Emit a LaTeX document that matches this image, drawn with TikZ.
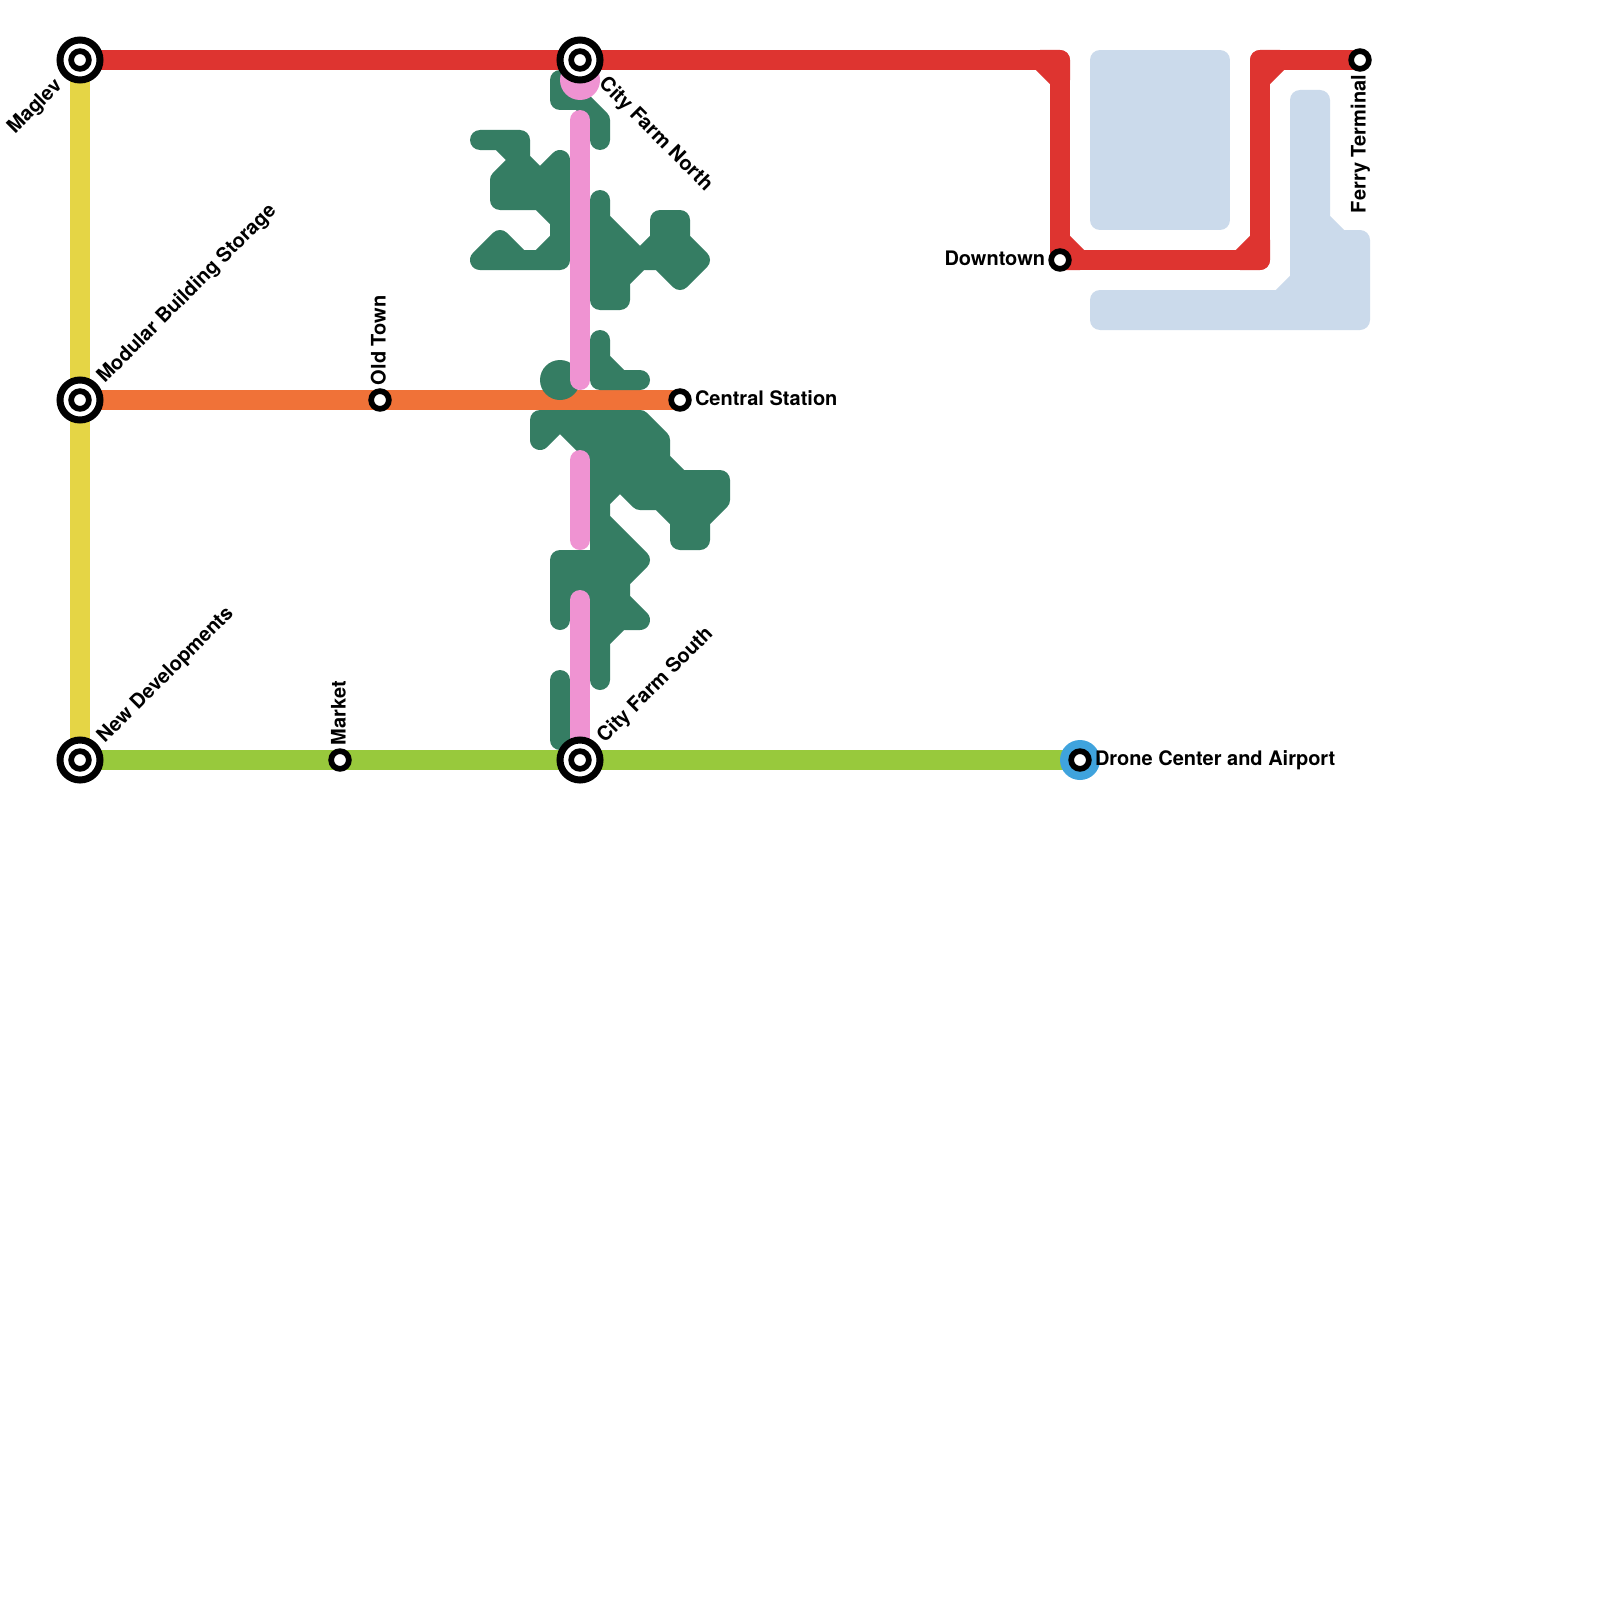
\documentclass[tikz,border=0pt]{standalone}
\usepackage{fontspec}
\setmainfont{TeX Gyre Heros}
\pgfdeclarelayer{under}
\pgfsetlayers{under,main}
\definecolor{cred}{HTML}{DE3430}
\definecolor{cyel}{HTML}{E5D545}
\definecolor{cora}{HTML}{F07238}
\definecolor{clim}{HTML}{98C93C}
\definecolor{cgrn}{HTML}{357D63}
\definecolor{cpnk}{HTML}{EF93D2}
\definecolor{cwat}{HTML}{CBDAEB}
\definecolor{cblu}{HTML}{3FA3DD}
\tikzset{
  metro/.style={line width=20pt,line join=round,line cap=round},
  shapefill/.style={metro,draw=#1,fill=#1},
  stn/.style={circle,draw=black,fill=white,line width=5.7pt,minimum size=17.7pt,inner sep=0pt,outer sep=0pt},
  ichg/.style={circle,draw=black,fill=white,line width=7pt,minimum size=40pt,inner sep=0pt,outer sep=0pt},
  halo/.style={circle,fill=cblu,minimum size=40pt,inner sep=0pt,outer sep=0pt},
  lbl/.style={font=\fontsize{20}{20}\selectfont\bfseries,text=black,inner sep=0pt,outer sep=0pt},
}
\begin{document}
\begin{tikzpicture}[x=1pt,y=-1pt]
\useasboundingbox (0,0) rectangle (1600,1600);
% stations
\node[ichg] (mag) at (80,60) {};
\node[ichg] (mod) at (80,400) {};
\node[ichg] (new) at (80,760) {};
\node[ichg] (cfn) at (580,60) {};
\node[ichg] (cfs) at (580,760) {};
\node[stn] (old) at (380,400) {};
\node[stn] (mkt) at (340,760) {};
\node[stn] (cen) at (680,400) {};
\node[stn] (dwn) at (1060,260) {};
\node[stn] (fer) at (1360,60) {};
\node[halo] (drh) at (1080,760) {};
\node[stn] (dro) at (1080,760) {};
\foreach \n in {mag,mod,new,cfn,cfs}{\node[stn] (\n-in) at (\n.center) {};}
% waypoints
\coordinate (r1) at (1060,60);
\coordinate (r2) at (1260,260);
\coordinate (r3) at (1260,60);
\coordinate (p1a) at (580,120);
\coordinate (p1b) at (580,380);
\coordinate (p2a) at (580,460);
\coordinate (p2b) at (580,540);
\coordinate (p3a) at (580,600);
\begin{pgfonlayer}{under}
\fill[white] (0,0) rectangle (1600,1600);
% water
\path[shapefill=cwat] (1100,60) -- (1220,60) -- (1220,220) -- (1100,220) -- cycle;
\path[shapefill=cwat] (1300,100) -- (1320,100) -- (1320,220) -- (1340,240) -- (1360,240) -- (1360,320) -- (1100,320) -- (1100,300) -- (1280,300) -- (1300,280) -- cycle;
% lines
\draw[metro,cyel] (mag.center) -- (new.center);
\draw[metro,cora] (mod.center) -- (old.center) -- (cen.center);
\draw[metro,clim] (new.center) -- (mkt.center) -- (cfs.center) -- (dro.center);
\draw[metro,cred] (mag.center) -- (cfn.center) -- (r1) -- (dwn.center) -- (r2) -- (r3) -- (fer.center);
\path[shapefill=cred] (1040,60) -- (1060,60) -- (1060,80) -- cycle;
\path[shapefill=cred] (1060,240) -- (1080,260) -- (1060,260) -- cycle;
\path[shapefill=cred] (1240,260) -- (1260,240) -- (1260,260) -- cycle;
\path[shapefill=cred] (1260,80) -- (1280,60) -- (1260,60) -- cycle;
% parks
\draw[metro,cgrn] (560,80) -- (560,100) -- (580,100) -- (600,120) -- (600,140);
\path[shapefill=cgrn] (480,140) -- (520,140) -- (520,160) -- (540,180) -- (560,160) -- (560,260) -- (480,260) -- (500,240) -- (520,260) -- (540,260) -- (560,240) -- (560,220) -- (540,200) -- (500,200) -- (500,180) -- (520,160) -- (500,140) -- cycle;
\path[shapefill=cgrn] (600,200) -- (600,220) -- (640,260) -- (660,240) -- (660,220) -- (680,220) -- (680,240) -- (700,260) -- (680,280) -- (660,260) -- (640,260) -- (620,280) -- (620,300) -- (600,300) -- cycle;
\path[shapefill=cgrn] (600,340) -- (600,360) -- (620,380) -- (640,380) -- (600,380) -- cycle;
\fill[cgrn] (560,380) circle[radius=20pt];
\path[shapefill=cgrn] (540,420) -- (640,420) -- (660,440) -- (660,460) -- (680,480) -- (720,480) -- (720,500) -- (700,520) -- (700,540) -- (680,540) -- (680,520) -- (660,500) -- (640,500) -- (620,480) -- (600,500) -- (600,520) -- (640,560) -- (620,580) -- (620,600) -- (640,620) -- (620,620) -- (600,640) -- (600,680) -- (600,460) -- (560,420) -- (540,440) -- cycle;
\path[shapefill=cgrn] (560,560) -- (600,560) -- (600,600) -- (560,600) -- cycle;
\draw[metro,cgrn] (560,600) -- (560,620);
\draw[metro,cgrn] (560,680) -- (560,740);
% pink line
\fill[cpnk] (580,80) circle[radius=20pt];
\draw[metro,cpnk] (p1a) -- (p1b);
\draw[metro,cpnk] (p2a) -- (p2b);
\draw[metro,cpnk] (p3a) -- (cfs.center);
\end{pgfonlayer}
% labels
\node[lbl,anchor=mid east,rotate=45] (t1) at (61,85) {Maglev};
\node[lbl,anchor=mid west,rotate=45] (t2) at (103,382) {Modular Building Storage};
\node[lbl,anchor=mid west,rotate=45] (t3) at (103,742) {New Developments};
\node[lbl,anchor=mid west,rotate=-45] (t4) at (600,83) {City Farm North};
\node[lbl,anchor=mid west,rotate=45] (t5) at (603,742) {City Farm South};
\node[lbl,anchor=mid west,rotate=90] (t6) at (383,385) {Old Town};
\node[lbl,anchor=mid west,rotate=90] (t7) at (343,745) {Market};
\node[lbl,anchor=mid west,rotate=90] (t8) at (1363,213) {Ferry Terminal};
\node[lbl,anchor=mid west] (t9) at (695,403) {Central Station};
\node[lbl,anchor=mid east] (t10) at (1045,263) {Downtown};
\node[lbl,anchor=mid west] (t11) at (1095,763) {Drone Center and Airport};
\end{tikzpicture}
\end{document}
